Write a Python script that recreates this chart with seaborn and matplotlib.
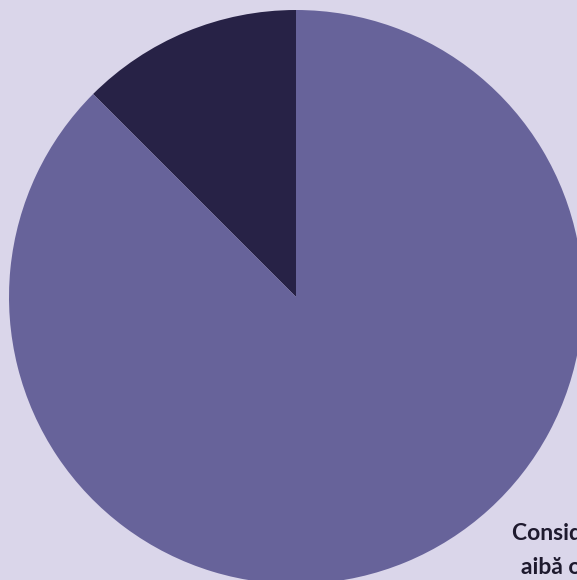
import matplotlib
matplotlib.use("Agg")
import matplotlib.pyplot as plt
import seaborn as sns

# Data
categories = ["Nu consideră", "Consideră"]
values = [12.5, 87.5]
colors = ["#272246", "#67639A"]
label_lines = ["Consideră că ar trebui să", "aibă o pensie privată"]

sns.set_theme(style="white")
plt.rcParams['font.family'] = ['Lato', 'DejaVu Sans']

bg = "#DAD6EA"
fig = plt.figure(figsize=(5.77, 5.80), dpi=100, facecolor=bg)
W, H = 577, 580
cx, cy, r = 296, 297, 287
ax = fig.add_axes([(cx - r) / W, (H - cy - r) / H, 2 * r / W, 2 * r / H])
ax.set_facecolor(bg)
ax.pie(values, colors=colors, startangle=90, counterclock=True, radius=1,
       wedgeprops=dict(linewidth=0))
ax.set_xlim(-1, 1)
ax.set_ylim(-1, 1)
ax.set_aspect("equal")
ax.axis("off")

fig.text(512 / W, 1 - 533 / H, label_lines[0], ha="left", va="center",
         fontsize=16.5, fontweight="bold", color="#1E1A2E")
fig.text(521 / W, 1 - 568 / H, label_lines[1], ha="left", va="center",
         fontsize=16.5, fontweight="bold", color="#1E1A2E")

fig.savefig("out.png", dpi=100, facecolor=bg)
